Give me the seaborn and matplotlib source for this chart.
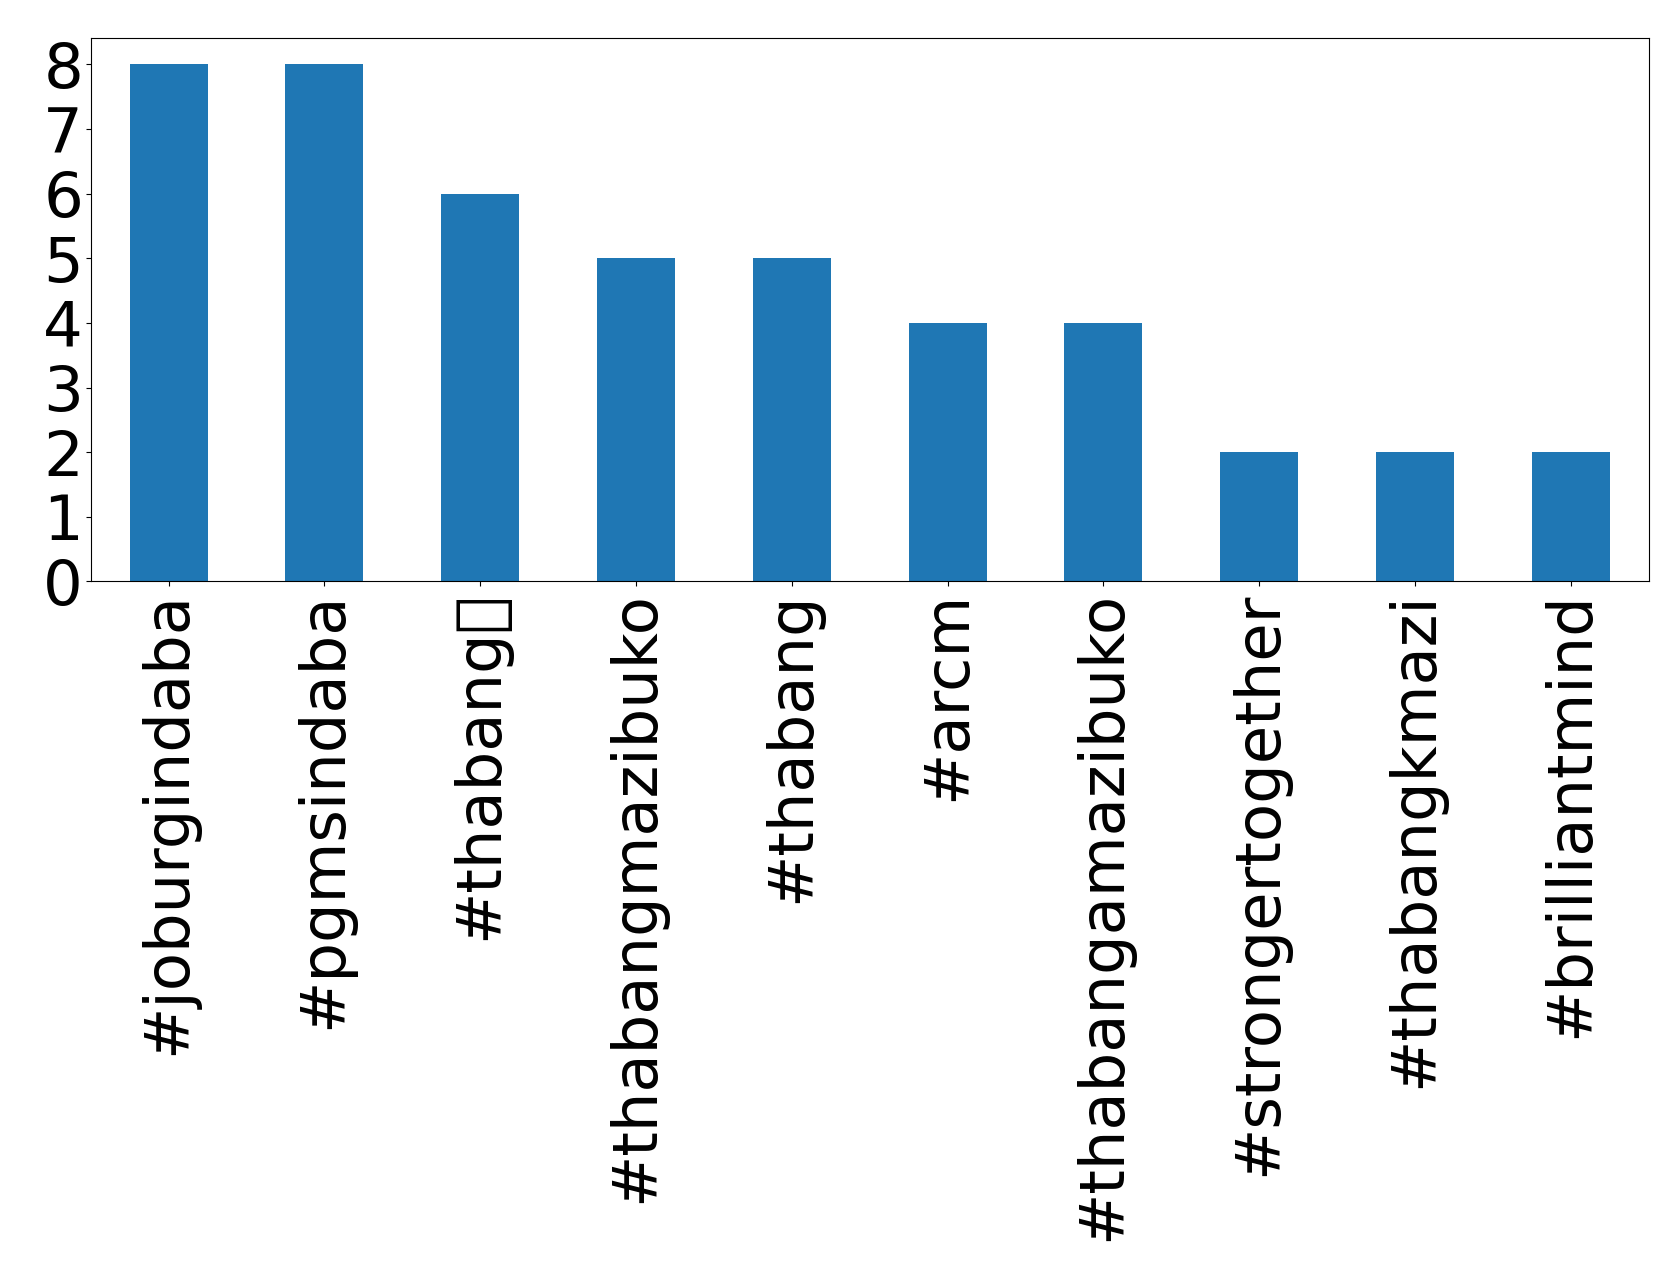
import matplotlib
matplotlib.use("Agg")
import matplotlib.pyplot as plt
import seaborn as sns

hashtags = ["#joburgindaba", "#pgmsindaba", "#thabang\U0001F64F", "#thabangmazibuko",
            "#thabang", "#arcm", "#thabangamazibuko", "#strongertogether",
            "#thabangkmazi", "#brilliantmind"]
counts = [8, 8, 6, 5, 5, 4, 4, 2, 2, 2]

fig, ax = plt.subplots(figsize=(16.79, 12.78), dpi=100)
sns.barplot(x=hashtags, y=counts, color="#1f77b4", saturation=1, width=0.5, ax=ax)
ax.set_xlim(-0.5, len(hashtags) - 0.5)
ax.set_yticks(range(0, 9))
ax.tick_params(axis="both", labelsize=45)
ax.tick_params(axis="y", pad=2)
ax.tick_params(axis="x", labelrotation=90)
fig.subplots_adjust(left=0.054, right=0.982, top=0.97, bottom=0.545)
fig.savefig("out.png", dpi=100)
